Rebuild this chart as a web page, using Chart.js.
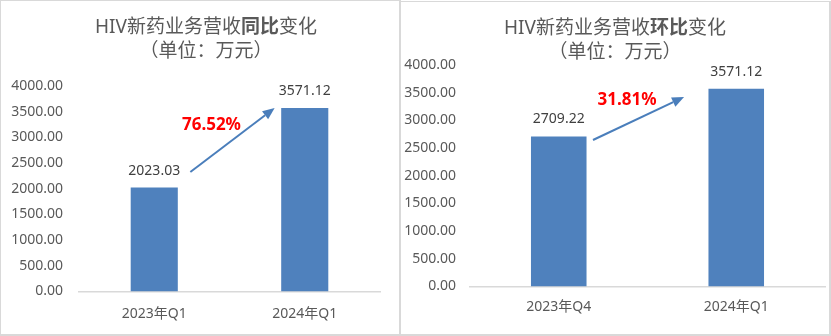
<!DOCTYPE html>
<html>
<head>
<meta charset="utf-8">
<script src="https://cdn.jsdelivr.net/npm/chart.js@4.4.1/dist/chart.umd.min.js"></script>
<style>
  html, body { margin: 0; padding: 0; background: #fff; }
  body { width: 831px; height: 336px; position: relative; overflow: hidden; }
  .box { position: absolute; border: 1px solid #d9d9d9; background: #fff; }
  .box canvas { position: absolute; left: 0; top: 0; }
  #boxYoy { left: 0; top: 0; width: 398px; height: 333px; border-right-width: 2px; border-bottom-width: 2px; }
  #boxQoq { left: 400px; top: 1px; width: 428px; height: 332px; border-right-width: 2px; border-bottom-width: 2px; }
</style>
</head>
<body>
<div class="box" id="boxYoy"><canvas id="yoyChart" width="398" height="333"></canvas></div>
<div class="box" id="boxQoq"><canvas id="qoqChart" width="428" height="332"></canvas></div>
<script>
// Year-over-year: same quarter, two years
const yoyLabels = ['2023年Q1', '2024年Q1'];
const yoyValues = [2023.03, 3571.12];
const yoyGrowth = '76.52%';

// Quarter-over-quarter: consecutive quarters
const qoqLabels = ['2023年Q4', '2024年Q1'];
const qoqValues = [2709.22, 3571.12];
const qoqGrowth = '31.81%';

// Shared value axis
const yTickValues = [0, 500, 1000, 1500, 2000, 2500, 3000, 3500, 4000];

const FONT = "'Noto Sans', 'Noto Sans CJK SC', sans-serif";
const BAR_COLOR = '#4f81bd';
const ARROW_COLOR = '#4a7ebb';

// Draws title, value labels, growth arrow and percentage
const decoPlugin = {
  id: 'deco',
  afterDatasetsDraw(chart, args, opts) {
    const ctx = chart.ctx;
    const xs = chart.scales.x;
    const ys = chart.scales.y;
    ctx.save();

    // title with mixed weights
    ctx.textBaseline = 'middle';
    ctx.fillStyle = '#595959';
    let total = 0;
    opts.title.forEach(seg => {
      ctx.font = (seg.bold ? 'bold ' : '') + '19px ' + FONT;
      seg.w = ctx.measureText(seg.text).width;
      total += seg.w;
    });
    let tx = opts.titleX - total / 2;
    opts.title.forEach(seg => {
      ctx.font = (seg.bold ? 'bold ' : '') + '19px ' + FONT;
      ctx.textAlign = 'left';
      ctx.fillText(seg.text, tx, opts.titleY);
      tx += seg.w;
    });
    ctx.font = '19px ' + FONT;
    ctx.textAlign = 'center';
    ctx.fillText(opts.subtitle, opts.titleX, opts.titleY + 24);

    // value labels above bars
    const meta = chart.getDatasetMeta(0);
    ctx.font = '14px ' + FONT;
    ctx.fillStyle = '#404040';
    meta.data.forEach((bar, i) => {
      ctx.fillText(chart.data.datasets[0].data[i].toFixed(2), bar.x, bar.y - 17);
    });

    // growth arrow
    const a = opts.arrow;
    const x1 = xs.getPixelForValue(a.from[0]), y1 = ys.getPixelForValue(a.from[1]);
    const x2 = xs.getPixelForValue(a.to[0]), y2 = ys.getPixelForValue(a.to[1]);
    const ang = Math.atan2(y2 - y1, x2 - x1);
    const headLen = 12, headW = 5;
    const bx = x2 - headLen * Math.cos(ang), by = y2 - headLen * Math.sin(ang);
    ctx.strokeStyle = ARROW_COLOR;
    ctx.fillStyle = ARROW_COLOR;
    ctx.lineWidth = 2;
    ctx.beginPath();
    ctx.moveTo(x1, y1);
    ctx.lineTo(bx, by);
    ctx.stroke();
    ctx.beginPath();
    ctx.moveTo(x2, y2);
    ctx.lineTo(bx + headW * Math.sin(ang), by - headW * Math.cos(ang));
    ctx.lineTo(bx - headW * Math.sin(ang), by + headW * Math.cos(ang));
    ctx.closePath();
    ctx.fill();

    // growth percentage
    ctx.font = 'bold 17px ' + FONT;
    ctx.fillStyle = '#ff0000';
    ctx.fillText(opts.pct.text, xs.getPixelForValue(opts.pct.at[0]), ys.getPixelForValue(opts.pct.at[1]));
    ctx.restore();
  }
};

function makeChart(id, labels, values, cfg) {
  return new Chart(document.getElementById(id), {
    type: 'bar',
    data: {
      labels: labels,
      datasets: [{
        data: values,
        backgroundColor: BAR_COLOR,
        categoryPercentage: 1,
        barPercentage: 0.313
      }]
    },
    options: {
      responsive: false,
      devicePixelRatio: 1,
      animation: false,
      layout: { padding: { left: 0, right: cfg.padRight, top: cfg.padTop, bottom: 0 } },
      plugins: {
        legend: { display: false },
        tooltip: { enabled: false },
        deco: cfg.deco
      },
      scales: {
        x: {
          grid: { display: false, drawTicks: false },
          border: { display: true, color: '#d9d9d9', width: 1.5 },
          ticks: { color: '#595959', font: { family: FONT, size: 14 }, padding: cfg.xPad },
          afterFit: s => { s.height = cfg.xAxisH; }
        },
        y: {
          min: 0,
          max: 4000,
          afterBuildTicks: s => { s.ticks = yTickValues.map(v => ({ value: v })); },
          grid: { display: false, drawTicks: false },
          border: { display: false },
          ticks: {
            color: '#595959',
            font: { family: FONT, size: 14 },
            padding: cfg.yPad,
            callback: v => Number(v).toFixed(2)
          },
          afterFit: s => { s.width = cfg.yAxisW; }
        }
      }
    },
    plugins: [decoPlugin]
  });
}

makeChart('yoyChart', yoyLabels, yoyValues, {
  padTop: 85, padRight: 19, xAxisH: 42.5, xPad: 14, yAxisW: 78, yPad: 16,
  deco: {
    title: [{ text: 'HIV新药业务营收' }, { text: '同比', bold: true }, { text: '变化' }],
    subtitle: '（单位：万元）',
    titleX: 205, titleY: 27,
    arrow: { from: [0.24, 2326], to: [0.80, 3571] },
    pct: { text: yoyGrowth, at: [0.38, 3240] }
  }
});

makeChart('qoqChart', qoqLabels, qoqValues, {
  padTop: 63, padRight: 4, xAxisH: 47.5, xPad: 12, yAxisW: 69, yPad: 14,
  deco: {
    title: [{ text: 'HIV新药业务营收' }, { text: '环比', bold: true }, { text: '变化' }],
    subtitle: '（单位：万元）',
    titleX: 214, titleY: 27,
    arrow: { from: [0.193, 2646], to: [0.706, 3422] },
    pct: { text: qoqGrowth, at: [0.385, 3368] }
  }
});
</script>
</body>
</html>
